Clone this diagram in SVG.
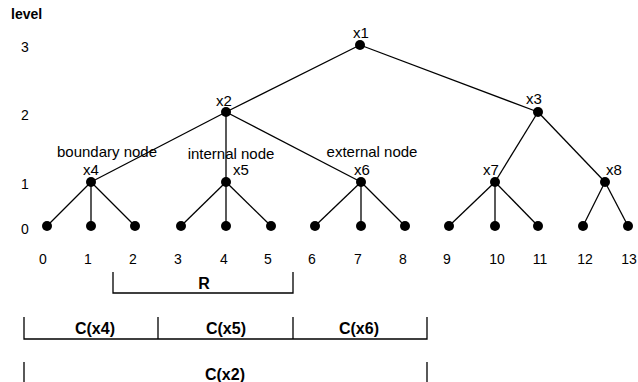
<svg xmlns="http://www.w3.org/2000/svg" width="638" height="382" viewBox="0 0 638 382">
<style>
text{font-family:"Liberation Sans",Arial,sans-serif;font-size:15px;fill:#000}
.b{font-weight:bold;font-size:16px}
.s{font-size:14px}
.m{text-anchor:middle}
line,path{stroke:#000;stroke-width:1.3;fill:none}
circle{fill:#000}
</style>
<rect width="638" height="382" fill="#fff"/>
<g id="axis">
<text x="11" y="19" class="b" style="font-size:14px">level</text>
<text x="25" y="52" class="m s">3</text>
<text x="25" y="120" class="m s">2</text>
<text x="25" y="189" class="m s">1</text>
<text x="25" y="234" class="m s">0</text>
</g>
<g id="connectors">
<line x1="360" y1="45" x2="226" y2="112"/>
<line x1="360" y1="45" x2="538" y2="112"/>
<line x1="226" y1="112" x2="91" y2="182"/>
<line x1="226" y1="112" x2="226" y2="182"/>
<line x1="226" y1="112" x2="361" y2="182"/>
<line x1="538" y1="112" x2="495" y2="182"/>
<line x1="538" y1="112" x2="605" y2="182"/>
<line x1="91" y1="182" x2="47" y2="226"/>
<line x1="91" y1="182" x2="91" y2="226"/>
<line x1="91" y1="182" x2="135" y2="226"/>
<line x1="226" y1="182" x2="181" y2="226"/>
<line x1="226" y1="182" x2="226" y2="226"/>
<line x1="226" y1="182" x2="271" y2="226"/>
<line x1="361" y1="182" x2="315" y2="226"/>
<line x1="361" y1="182" x2="361" y2="226"/>
<line x1="361" y1="182" x2="405" y2="226"/>
<line x1="495" y1="182" x2="449" y2="226"/>
<line x1="495" y1="182" x2="495" y2="226"/>
<line x1="495" y1="182" x2="538" y2="226"/>
<line x1="605" y1="182" x2="583" y2="226"/>
<line x1="605" y1="182" x2="628" y2="226"/>
</g>
<g id="x1"><circle cx="360" cy="45" r="5"/><text x="361" y="38" class="m">x1</text></g>
<g id="x2"><circle cx="226" cy="112" r="5"/><text x="224" y="106" class="m">x2</text></g>
<g id="x3"><circle cx="538" cy="112" r="5"/><text x="534" y="104" class="m">x3</text></g>
<g id="x4"><circle cx="91" cy="182" r="5"/><text x="91" y="175" class="m">x4</text><text x="107" y="157" class="m">boundary node</text></g>
<g id="x5"><circle cx="226" cy="182" r="5"/><text x="233" y="175">x5</text><text x="231" y="159" class="m">internal node</text></g>
<g id="x6"><circle cx="361" cy="182" r="5"/><text x="362" y="175" class="m">x6</text><text x="372" y="157" class="m">external node</text></g>
<g id="x7"><circle cx="495" cy="182" r="5"/><text x="491" y="175" class="m">x7</text></g>
<g id="x8"><circle cx="605" cy="182" r="5"/><text x="614" y="175" class="m">x8</text></g>
<g id="leaves">
<circle cx="47" cy="226" r="5"/><circle cx="91" cy="226" r="5"/><circle cx="135" cy="226" r="5"/>
<circle cx="181" cy="226" r="5"/><circle cx="226" cy="226" r="5"/><circle cx="271" cy="226" r="5"/>
<circle cx="315" cy="226" r="5"/><circle cx="361" cy="226" r="5"/><circle cx="405" cy="226" r="5"/>
<circle cx="449" cy="226" r="5"/><circle cx="495" cy="226" r="5"/><circle cx="538" cy="226" r="5"/>
<circle cx="583" cy="226" r="5"/><circle cx="628" cy="226" r="5"/>
</g>
<g id="leaf-labels">
<text x="43" y="264" class="m s">0</text>
<text x="88" y="264" class="m s">1</text>
<text x="133" y="264" class="m s">2</text>
<text x="178" y="264" class="m s">3</text>
<text x="224" y="264" class="m s">4</text>
<text x="268" y="264" class="m s">5</text>
<text x="312" y="264" class="m s">6</text>
<text x="358" y="264" class="m s">7</text>
<text x="403" y="264" class="m s">8</text>
<text x="447" y="264" class="m s">9</text>
<text x="497" y="264" class="m s">10</text>
<text x="540" y="264" class="m s">11</text>
<text x="585" y="264" class="m s">12</text>
<text x="629" y="264" class="m s">13</text>
</g>
<g id="brackets">
<path d="M113 272 V293 H293 V272"/>
<text x="204" y="289" class="b m">R</text>
<path d="M24 317 V339 H427 V317 M158 317 V339 M293 317 V339"/>
<text x="95" y="334" class="b m">C(x4)</text>
<text x="226" y="334" class="b m">C(x5)</text>
<text x="359" y="334" class="b m">C(x6)</text>
<path d="M24 362 V382 M427 362 V382"/>
<text x="225" y="380" class="b m">C(x2)</text>
</g>
</svg>
